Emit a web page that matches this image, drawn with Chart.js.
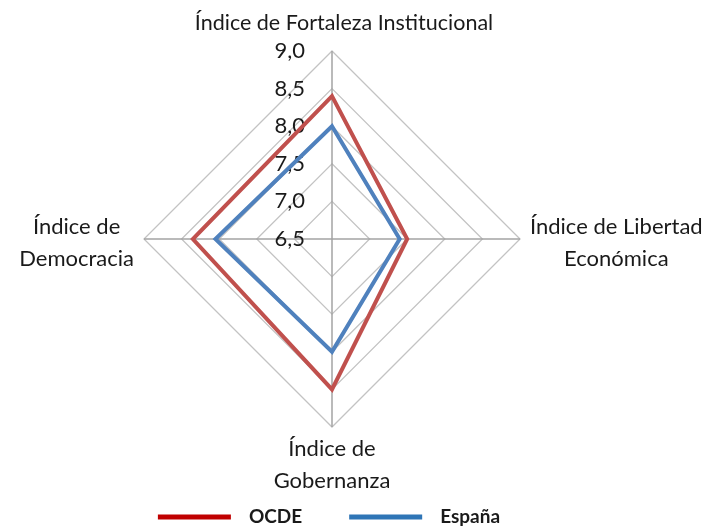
<!DOCTYPE html>
<html>
<head>
<meta charset="utf-8">
<script src="https://cdn.jsdelivr.net/npm/chart.js@4.4.1/dist/chart.umd.min.js"></script>
<style>
  html, body { margin: 0; padding: 0; background: #fff; }
</style>
</head>
<body>
<canvas id="radar" width="716" height="531"></canvas>
<script>
// data
var axisLabels = [
  ['Índice de Fortaleza Institucional'],
  ['Índice de Libertad', 'Económica'],
  ['Índice de', 'Gobernanza'],
  ['Índice de', 'Democracia']
];
var seriesNames = ['OCDE', 'España'];
var ocdeValues = [8.4, 7.5, 8.5, 8.35];
var espanaValues = [8.0, 7.4, 8.0, 8.05];
var tickValues = [6.5, 7.0, 7.5, 8.0, 8.5, 9.0];

var lineColors = ['#c0504d', '#4f81bd'];
var legendColors = ['#c00000', '#2e75b6'];
var textColor = '#1a1a1a';
var fontName = 'Lato';

// tick labels, axis titles and legend drawn on the canvas
var textPlugin = {
  id: 'radarText',
  beforeDatasetsDraw: function(chart) {
    var ctx = chart.ctx, r = chart.scales.r;
    ctx.save();
    ctx.font = '22px ' + fontName;
    ctx.fillStyle = textColor;
    ctx.textAlign = 'right';
    ctx.textBaseline = 'middle';
    tickValues.forEach(function(v) {
      var y = r.yCenter - r.getDistanceFromCenterForValue(v);
      ctx.fillText(v.toFixed(1).replace('.', ','), r.xCenter - 27, y);
    });
    ctx.restore();
  },
  afterDraw: function(chart) {
    var ctx = chart.ctx, r = chart.scales.r;
    var lh = 32, gap = 10;
    ctx.save();
    ctx.fillStyle = textColor;
    ctx.textAlign = 'center';
    ctx.textBaseline = 'alphabetic';
    axisLabels.forEach(function(lines, i) {
      ctx.font = (i === 0 ? '21.5px ' : '22px ') + fontName;
      var p = r.getPointPosition(i, r.drawingArea);
      var maxW = Math.max.apply(null, lines.map(function(s) { return ctx.measureText(s).width; }));
      var n = lines.length;
      lines.forEach(function(s, k) {
        var x = p.x, y;
        if (i === 0) {
          x = p.x + 12;
          y = p.y - 21 - (n - 1 - k) * lh;
        } else if (i === 2) {
          y = p.y + 29 + k * lh;
        } else {
          y = p.y + lh * (k - (n - 1) / 2) + 11;
          x = i === 1 ? p.x + gap + maxW / 2 : p.x - gap - maxW / 2;
        }
        ctx.fillText(s, x, y);
      });
    });

    // legend
    ctx.font = 'bold 19px ' + fontName;
    ctx.textAlign = 'left';
    ctx.textBaseline = 'middle';
    var lineLen = 73, textGap = 18, itemGap = 47, ly = 517;
    var widths = chart.data.datasets.map(function(ds) { return ctx.measureText(ds.label).width; });
    var total = itemGap * (widths.length - 1);
    widths.forEach(function(w) { total += lineLen + textGap + w; });
    var x = r.xCenter - 3 - total / 2;
    chart.data.datasets.forEach(function(ds, i) {
      ctx.fillStyle = legendColors[i];
      ctx.fillRect(x, ly - 2.5, lineLen, 5);
      x += lineLen + textGap;
      ctx.fillStyle = textColor;
      ctx.fillText(ds.label, x, ly);
      x += widths[i] + itemGap;
    });
    ctx.restore();
  }
};

var chart = new Chart(document.getElementById('radar'), {
  type: 'radar',
  data: {
    labels: axisLabels,
    datasets: [
      {
        label: seriesNames[0],
        data: ocdeValues,
        borderColor: lineColors[0],
        backgroundColor: lineColors[0],
        borderWidth: 4,
        pointRadius: 0,
        fill: false
      },
      {
        label: seriesNames[1],
        data: espanaValues,
        borderColor: lineColors[1],
        backgroundColor: lineColors[1],
        borderWidth: 4,
        pointRadius: 0,
        fill: false
      }
    ]
  },
  options: {
    responsive: false,
    devicePixelRatio: 1,
    animation: false,
    layout: { padding: { top: 51, bottom: 104, left: 100, right: 152 } },
    plugins: {
      legend: { display: false },
      tooltip: { enabled: false }
    },
    scales: {
      r: {
        min: 6.5,
        max: 9.0,
        ticks: { stepSize: 0.5, display: false },
        pointLabels: { display: false },
        grid: { color: '#c3c3c3', lineWidth: 1.3 },
        angleLines: { color: '#a3a3a3', lineWidth: 1.5 }
      }
    }
  },
  plugins: [textPlugin]
});
</script>
</body>
</html>
